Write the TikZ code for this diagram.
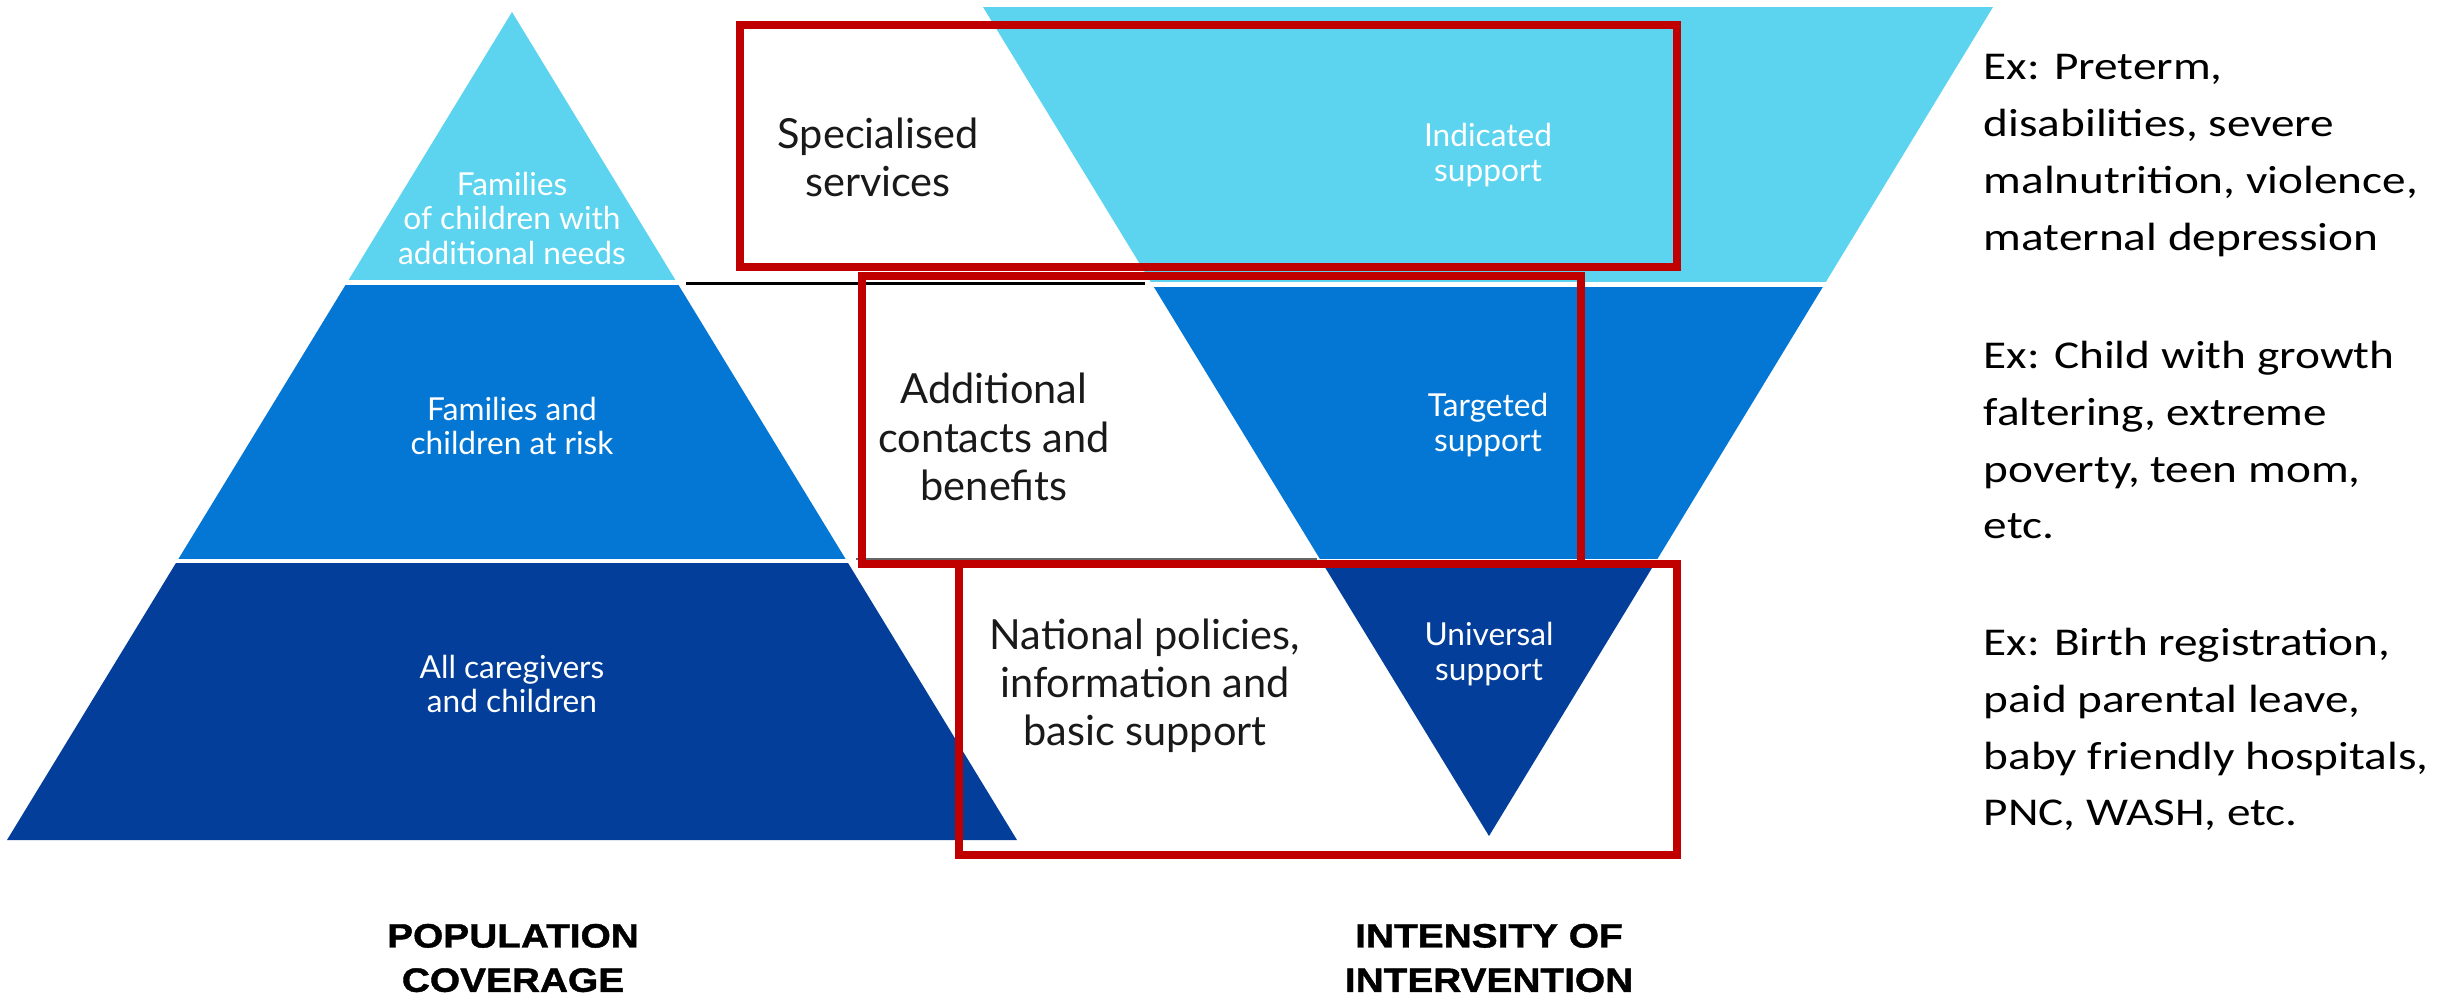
\documentclass[tikz,border=0pt]{standalone}
\usepackage{fontspec}
\setmainfont{Lato}
\newfontfamily\exfont[FakeStretch=1.2]{Carlito}
\newfontfamily\titlefont[FakeStretch=1.15,FakeBold=1.2]{Liberation Sans}
\usetikzlibrary{positioning}
\definecolor{tierlight}{HTML}{5CD4EF}
\definecolor{tiermid}{HTML}{0477D4}
\definecolor{tierdark}{HTML}{023E9A}
\definecolor{boxred}{HTML}{C00000}
\tikzset{
  tierlabel/.style={text=white, align=center, font=\fontsize{9}{9.8}\selectfont},
  servlabel/.style={text=black!90, align=center, font=\fontsize{11.8}{13.7}\selectfont},
  axislabel/.style={align=center, font=\titlefont\bfseries\fontsize{9.6}{12.6}\selectfont},
  exlabel/.style={align=left, anchor=north west, inner sep=0pt, font=\exfont\fontsize{11.2}{16.2}\selectfont},
  redbox/.style={draw=boxred, line width=0.08cm}
}

\begin{document}
\begin{tikzpicture}[x=0.01cm, y=-0.01cm]
  \useasboundingbox (0,0) rectangle (2461,1002);
  \coordinate (pTop) at (512,12);
  \coordinate (pLeft) at (7,840);
  \coordinate (pRight) at (1017,840);
  \coordinate (iLeft) at (983,7);
  \coordinate (iRight) at (1993,7);
  \coordinate (iTip) at (1489,836);

  % population pyramid, three tiers
  \begin{scope}
    \clip (pTop) -- (pRight) -- (pLeft) -- cycle;
    \fill[tierlight] (0,0) rectangle (1100,280);
    \fill[tiermid] (0,285) rectangle (1100,559);
    \fill[tierdark] (0,563) rectangle (1100,850);
  \end{scope}

  % intensity funnel, same tiers upside down
  \begin{scope}
    \clip (iLeft) -- (iRight) -- (iTip) -- cycle;
    \fill[tierlight] (950,0) rectangle (2000,282);
    \fill[tiermid] (950,287) rectangle (2000,559);
    \fill[tierdark] (950,563) rectangle (2000,850);
  \end{scope}

  \draw[line width=0.03cm] (686,283) -- (1145,283);
  \draw[black!60, line width=0.015cm] (856,559) -- (1317,559);

  \draw[redbox] (740,24.5) rectangle (1677,266.5);
  \draw[redbox] (862,276) rectangle (1581,564);
  \draw[redbox] (959,564) rectangle (1677,854.5);

  \node[tierlabel] (famNeeds) at (512,218) {Families\\of children with\\additional needs};
  \node[tierlabel] (famRisk) at (512,426) {Families and\\children at risk};
  \node[tierlabel] (allCare) at (512,684) {All caregivers\\and children};

  \node[tierlabel] (indicated) at (1488,155) {Indicated\\support};
  \node[tierlabel] (targeted) at (1488,425) {Targeted\\support};
  \node[tierlabel] (universal) at (1489,654) {Universal\\support};

  \node[servlabel] (specialised) at (878,157) {Specialised\\services};
  \node[servlabel] (additional) at (994,437) {Additional\\contacts and\\benefits};
  \node[servlabel] (national) at (1145,686) {National policies,\\information and\\basic support};

  \node[axislabel] (coverage) at (513,958) {POPULATION\\COVERAGE};
  \node[axislabel] (intensity) at (1489,958) {INTENSITY OF\\INTERVENTION};

  \node[exlabel] (exSevere) at (1983,54) {Ex: Preterm,\\disabilities, severe\\malnutrition, violence,\\maternal depression};
  \node[exlabel] (exRisk) at (1983,340) {Ex: Child with growth\\faltering, extreme\\poverty, teen mom,\\etc.};
  \node[exlabel] (exAll) at (1983,627) {Ex: Birth registration,\\paid parental leave,\\baby friendly hospitals,\\PNC, WASH, etc.};

\end{tikzpicture}
\end{document}
